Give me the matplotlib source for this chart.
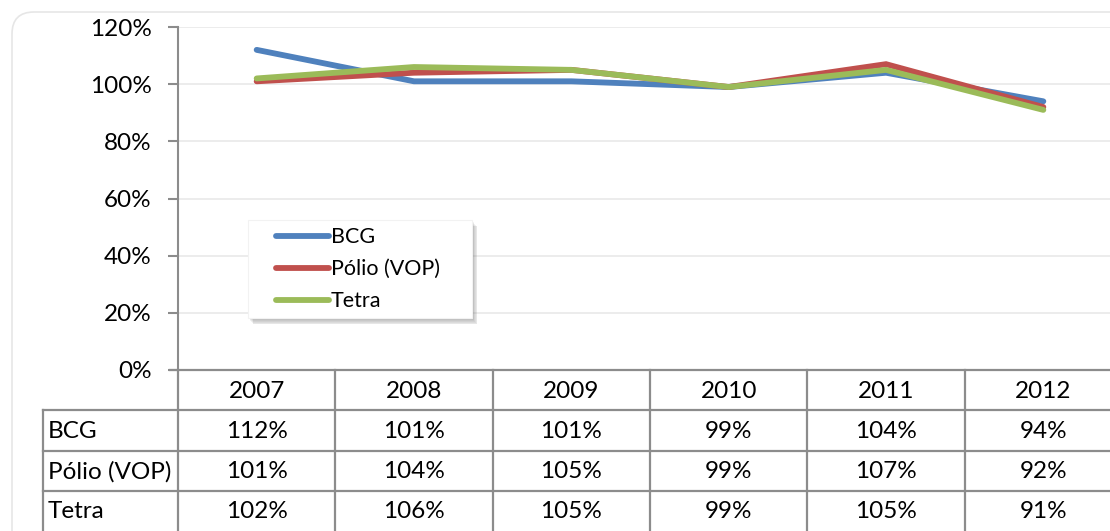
import matplotlib.pyplot as plt
from matplotlib.patches import FancyBboxPatch, Rectangle

plt.rcParams['font.family'] = ['Lato', 'DejaVu Sans']

anos = ['2007', '2008', '2009', '2010', '2011', '2012']
series = ['BCG', 'Pólio (VOP)', 'Tetra']
bcg = [112, 101, 101, 99, 104, 94]
polio = [101, 104, 105, 99, 107, 92]
tetra = [102, 106, 105, 99, 105, 91]
valores = [bcg, polio, tetra]
cores = ['#4F81BD', '#C0504D', '#9BBB59']
yticks = [0, 20, 40, 60, 80, 100, 120]

W, H = 1110, 531
fig = plt.figure(figsize=(W / 100, H / 100), dpi=100)
fs = 17.5

# fundo / borda arredondada da area do grafico
bg = fig.add_axes([0, 0, 1, 1])
bg.set_xlim(0, W)
bg.set_ylim(H, 0)
bg.axis('off')
bg.add_patch(FancyBboxPatch((12, 12), 1140, 560, boxstyle='round,pad=0,rounding_size=22',
                            fc='white', ec='#E6E6E6', lw=1.2))

# eixo do grafico (linhas)
x0, x1 = 178, 1122
ytop, ybot = 27, 370
ax = fig.add_axes([x0 / W, 1 - ybot / H, (x1 - x0) / W, (ybot - ytop) / H])
ax.set_facecolor('none')
xs = list(range(len(anos)))
for vals, cor, nome in zip(valores, cores, series):
    ax.plot(xs, vals, color=cor, lw=4.2, solid_capstyle='round', solid_joinstyle='miter', label=nome)
ax.set_xlim(-0.5, len(anos) - 0.5)
ax.set_ylim(0, 120)
ax.set_yticks(yticks)
ax.set_yticklabels([f'{v}%' for v in yticks], fontsize=fs)
ax.set_xticks([])
for v in yticks[1:]:
    ax.axhline(v, color='#EBEBEB', lw=1.3, zorder=0)
for s in ['top', 'right']:
    ax.spines[s].set_visible(False)
ax.spines['left'].set_color('#8C8C8C')
ax.spines['left'].set_linewidth(1.5)
ax.spines['bottom'].set_visible(False)
ax.tick_params(axis='y', length=7, width=1.5, color='#8C8C8C', pad=12)

# legenda desenhada a mao (caixa com sombra)
lg = fig.add_axes([0, 0, 1, 1])
lg.set_xlim(0, W)
lg.set_ylim(H, 0)
lg.axis('off')
lx, ly, lw_, lh = 248, 220, 224, 98
for k in range(7):
    lg.add_patch(Rectangle((lx + 1 + k * 0.7, ly + 1 + k * 0.9), lw_, lh, fc='#606060',
                           ec='none', alpha=0.08))
lg.add_patch(Rectangle((lx, ly), lw_, lh, fc='white', ec='#F2F2F2', lw=0.8))
for i, (nome, cor) in enumerate(zip(series, cores)):
    yy = 236 + i * 32
    lg.plot([276, 329], [yy, yy], color=cor, lw=4.2, solid_capstyle='round')
    lg.text(331, yy + 1, nome, ha='left', va='center', fontsize=15.5)

# tabela de dados
grid = '#8C8C8C'
colw = (x1 - x0) / len(anos)
rows_y = [370, 410, 451, 491, 531]
tx0 = 43
bg.plot([170, x1], [370, 370], color=grid, lw=1.6, zorder=3)
for i in range(len(anos) + 1):
    bg.plot([x0 + i * colw] * 2, [370, 532], color=grid, lw=1.6, zorder=3)
bg.plot([tx0, tx0], [410, 532], color=grid, lw=1.6, zorder=3)
for y in rows_y[1:4]:
    bg.plot([tx0, x1], [y, y], color=grid, lw=1.6, zorder=3)

for j, ano in enumerate(anos):
    bg.text(x0 + (j + 0.5) * colw, (rows_y[0] + rows_y[1]) / 2 + 1, ano,
            ha='center', va='center', fontsize=fs)
for i, (nome, vals) in enumerate(zip(series, valores)):
    yc = (rows_y[i + 1] + rows_y[i + 2]) / 2 + 1
    bg.text(tx0 + 5, yc, nome, ha='left', va='center', fontsize=fs)
    for j, v in enumerate(vals):
        bg.text(x0 + (j + 0.5) * colw, yc, f'{v}%', ha='center', va='center', fontsize=fs)

fig.savefig('out.png', dpi=100)
